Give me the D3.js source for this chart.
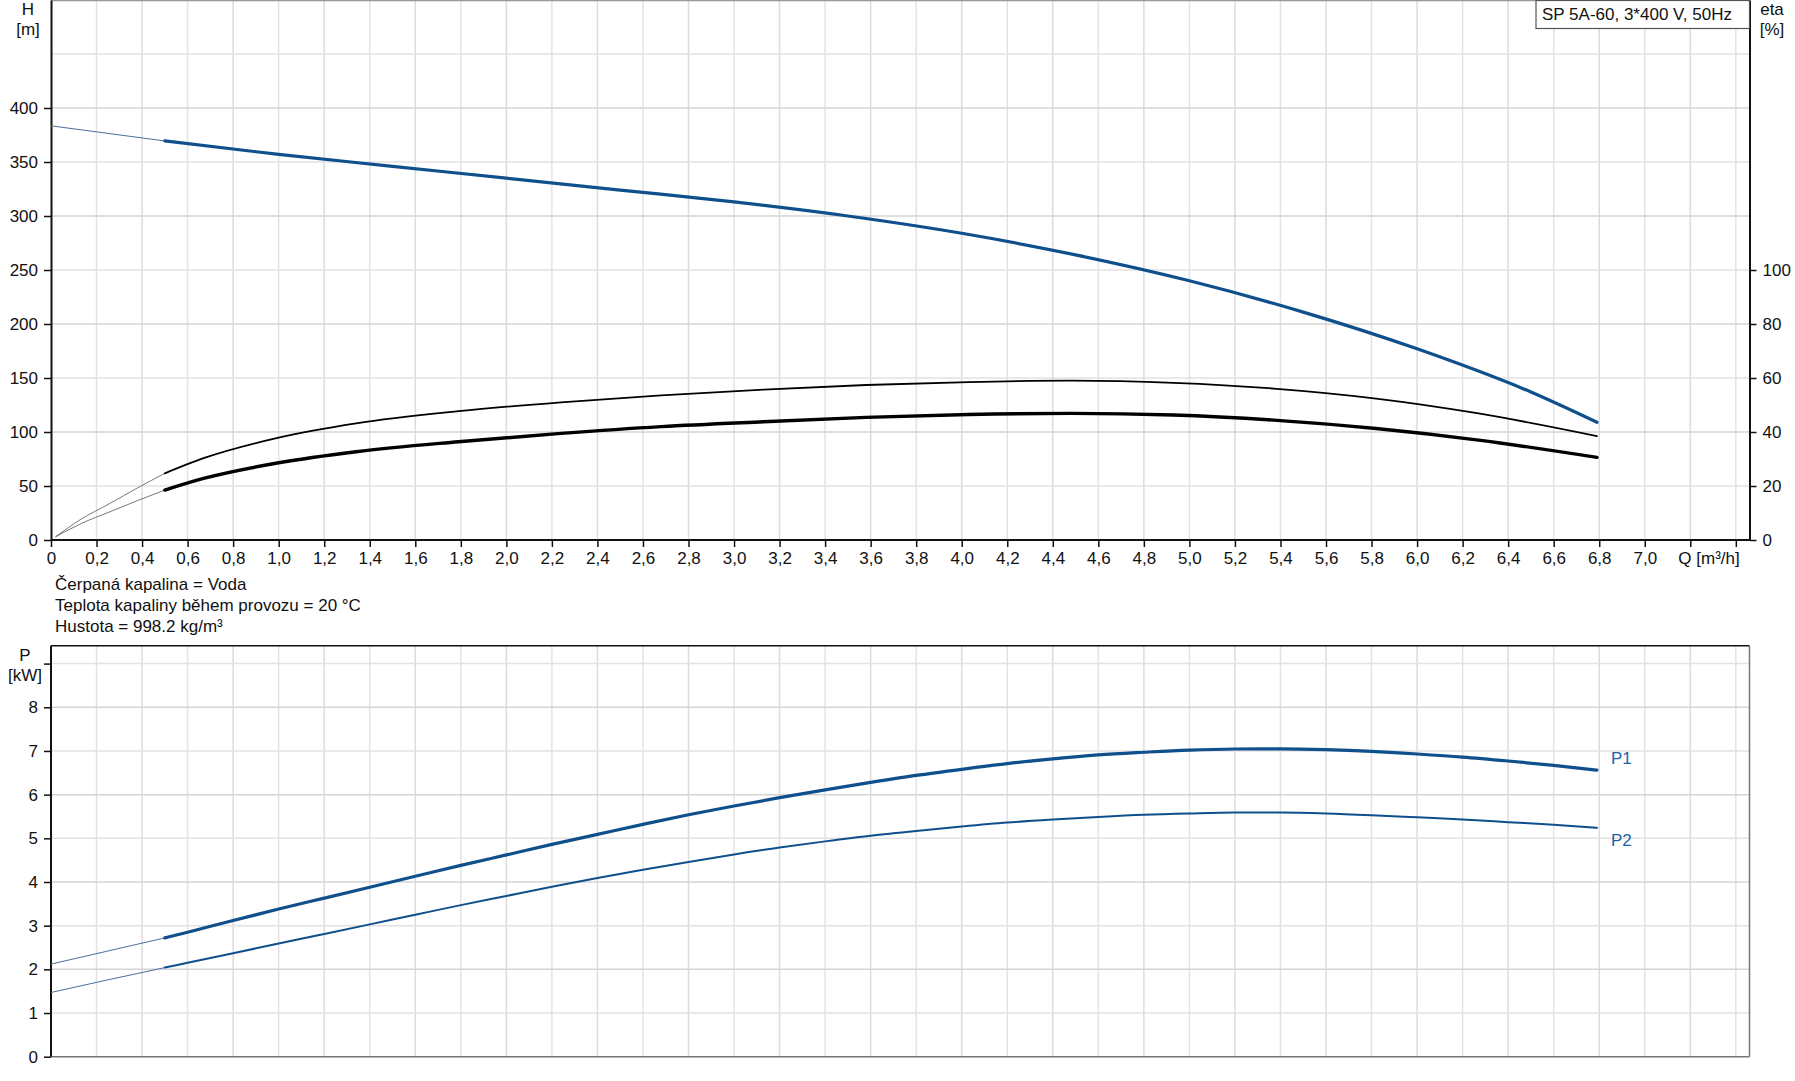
<!DOCTYPE html>
<html>
<head>
<meta charset="utf-8">
<script src="https://cdn.jsdelivr.net/npm/d3@7"></script>
<style>
  html, body { margin: 0; padding: 0; background: #fff; }
  svg { display: block; font-family: "Liberation Sans", Arial, sans-serif; }
</style>
</head>
<body>
<svg id="chart" width="1795" height="1081"></svg>
<script>
// ---------- DATA ----------
const xTicks = [0,0.2,0.4,0.6,0.8,1.0,1.2,1.4,1.6,1.8,2.0,2.2,2.4,2.6,2.8,3.0,3.2,3.4,3.6,3.8,4.0,4.2,4.4,4.6,4.8,5.0,5.2,5.4,5.6,5.8,6.0,6.2,6.4,6.6,6.8,7.0,7.2,7.4];
const hTicks = [0,50,100,150,200,250,300,350,400];
const etaTicks = [0,20,40,60,80,100];
const pTicks = [0,1,2,3,4,5,6,7,8,9];

const headQ = [0, 0.5, 1.0, 1.5, 2.0, 2.5, 3.0, 3.5, 4.0, 4.5, 5.0, 5.5, 6.0, 6.5, 6.79];
const headH = [383.5, 369.5, 357, 346, 335, 324, 313, 300, 284, 264, 240, 211, 177, 137, 109];

const etaQ      = [0.02, 0.13, 0.26, 0.38, 0.5, 0.67, 1.0, 1.34, 1.79, 2.24, 2.68, 3.13, 3.58, 4.03, 4.48, 4.93, 5.37, 5.82, 6.27, 6.79];
const etaPump   = [1.2, 7.6, 13.6, 19.3, 24.7, 30.3, 37.9, 43.2, 47.7, 51.0, 53.6, 55.7, 57.4, 58.5, 59.0, 58.2, 56.1, 52.4, 46.9, 38.5];
const etaTotal  = [1.2, 6.0, 10.5, 14.6, 18.5, 22.8, 28.6, 32.7, 36.4, 39.5, 42.0, 43.8, 45.4, 46.5, 46.9, 46.3, 44.4, 41.3, 37.0, 30.6];

const powerQ = [0, 0.25, 0.5, 0.6, 0.8, 1.0, 1.2, 1.4, 1.6, 1.8, 2.0, 2.2, 2.4, 2.6, 2.8, 3.0, 3.2, 3.4, 3.6, 3.8, 4.0, 4.2, 4.4, 4.6, 4.8, 5.0, 5.2, 5.4, 5.6, 5.8, 6.0, 6.2, 6.4, 6.6, 6.79];
const powerP1 = [2.12, 2.42, 2.72, 2.85, 3.12, 3.38, 3.63, 3.88, 4.13, 4.38, 4.62, 4.86, 5.09, 5.32, 5.54, 5.74, 5.93, 6.11, 6.28, 6.44, 6.58, 6.71, 6.82, 6.91, 6.97, 7.02, 7.045, 7.05, 7.03, 6.99, 6.93, 6.86, 6.77, 6.67, 6.56];
const powerP2 = [1.47, 1.76, 2.04, 2.15, 2.37, 2.59, 2.81, 3.03, 3.25, 3.47, 3.68, 3.89, 4.09, 4.28, 4.46, 4.63, 4.79, 4.93, 5.06, 5.17, 5.27, 5.36, 5.43, 5.49, 5.54, 5.57, 5.59, 5.59, 5.57, 5.53, 5.48, 5.43, 5.37, 5.31, 5.24];

const dutyStart = 0.5;
const titleText = "SP 5A-60, 3*400 V, 50Hz";
const infoLines = ["Čerpaná kapalina = Voda", "Teplota kapaliny během provozu = 20 °C", "Hustota = 998.2 kg/m³"];

// ---------- LAYOUT ----------
const svg = d3.select("#chart");
const X0 = 51, X1 = 1749.5;
const T_BOTTOM = 540, T_TOP = 0;
const B_BOTTOM = 1056.7, B_TOP = 645.7;
const FS = 17;
const BLUE = "#0f4f8c";

const x = d3.scaleLinear().domain([0, 7.46]).range([X0, X1]);
const yH = d3.scaleLinear().domain([0, 500]).range([T_BOTTOM, T_TOP]);
const yEta = d3.scaleLinear().domain([0, 200]).range([T_BOTTOM, T_TOP]);
const yP = d3.scaleLinear().domain([0, 9.41]).range([B_BOTTOM, B_TOP]);

const fmtQ = v => v === 0 ? "0" : d3.format(".1f")(v).replace(".", ",");

// ---------- GRID ----------
function grid(top, bottom, yScale, yVals) {
  const g = svg.append("g");
  g.selectAll(".v").data(xTicks.filter(d => d > 0)).join("line")
    .attr("x1", d => x(d)).attr("x2", d => x(d))
    .attr("y1", top).attr("y2", bottom)
    .attr("stroke", (d, i) => i % 2 ? "#dcdcdc" : "#e3e3e3").attr("stroke-width", 1.5);
  g.selectAll(".h").data(yVals).join("line")
    .attr("x1", X0).attr("x2", X1)
    .attr("y1", d => yScale(d)).attr("y2", d => yScale(d))
    .attr("stroke", (d, i) => i % 2 ? "#d4d4d4" : "#e2e2e2").attr("stroke-width", 1.5);
}
grid(T_TOP, T_BOTTOM, yH, [50,100,150,200,250,300,350,400,450]);
grid(B_TOP, B_BOTTOM, yP, [1,2,3,4,5,6,7,8,9]);

// ---------- BORDERS ----------
svg.append("line").attr("x1", X0).attr("x2", X1).attr("y1", 0.5).attr("y2", 0.5).attr("stroke", "#999").attr("stroke-width", 1.5);
svg.append("line").attr("x1", X0).attr("x2", X1).attr("y1", B_TOP).attr("y2", B_TOP).attr("stroke", "#111").attr("stroke-width", 1.5);
svg.append("line").attr("x1", X0).attr("x2", X1).attr("y1", B_BOTTOM).attr("y2", B_BOTTOM).attr("stroke", "#777").attr("stroke-width", 1.5);
svg.append("line").attr("x1", X1).attr("x2", X1).attr("y1", B_TOP).attr("y2", B_BOTTOM).attr("stroke", "#777").attr("stroke-width", 1.5);

// ---------- AXES ----------
function styleAxis(g) {
  g.selectAll("text").attr("font-size", FS).attr("fill", "#111").attr("font-family", "Liberation Sans, Arial, sans-serif");
  g.selectAll("line").attr("stroke", "#111").attr("stroke-width", 1.5);
  g.select(".domain").attr("stroke", "#111").attr("stroke-width", 2);
}

const xAxis = d3.axisBottom(x).tickValues(xTicks).tickSize(7).tickPadding(5).tickSizeOuter(0)
  .tickFormat(d => d <= 7.01 ? fmtQ(d) : "");
svg.append("g").attr("transform", `translate(0,${T_BOTTOM})`).call(xAxis).call(styleAxis)
  .select(".domain").attr("d", `M${X0},0H${X1}`);

svg.append("text").attr("x", x(7.2) - 12).attr("y", T_BOTTOM + 24).attr("font-size", FS).attr("fill", "#111")
  .text("Q [m³/h]");

svg.append("g").attr("transform", `translate(${X0},0)`)
  .call(d3.axisLeft(yH).tickValues(hTicks).tickSize(7).tickPadding(6).tickSizeOuter(0))
  .call(styleAxis);

svg.append("g").attr("transform", `translate(${X1},0)`)
  .call(d3.axisRight(yEta).tickValues(etaTicks).tickSize(7).tickPadding(6).tickSizeOuter(0))
  .call(styleAxis);

const pAxis = svg.append("g").attr("transform", `translate(${X0},0)`)
  .call(d3.axisLeft(yP).tickValues(pTicks).tickSize(7).tickPadding(6).tickSizeOuter(0).tickFormat(d => d === 9 ? "" : d))
  .call(styleAxis);
pAxis.select(".domain").attr("d", `M0,${B_TOP}V${B_BOTTOM}`);

// axis titles
function label(tx, ty, t, anchor) {
  svg.append("text").attr("x", tx).attr("y", ty).attr("font-size", FS).attr("fill", "#111")
    .attr("text-anchor", anchor || "middle").attr("dominant-baseline", "central").text(t);
}
label(28, 9, "H"); label(28, 29, "[m]");
label(1772, 9, "eta"); label(1772, 29, "[%]");
label(25, 655, "P"); label(25, 675, "[kW]");

// info lines
infoLines.forEach((t, i) => label(55, 584 + i * 21, t, "start"));

// title box
svg.append("rect").attr("x", 1536).attr("y", 0.5).attr("width", X1 - 1536).attr("height", 28)
  .attr("fill", "#fff").attr("stroke", "#555").attr("stroke-width", 1.2);
svg.append("text").attr("x", 1542).attr("y", 14).attr("font-size", FS).attr("fill", "#111")
  .attr("dominant-baseline", "central").text(titleText);

// ---------- CURVES ----------
function drawCurve(qs, vs, yScale, color, thinW, thickW, thinColor) {
  const pts = qs.map((q, i) => [q, vs[i]]);
  const line = d3.line().x(d => x(d[0])).y(d => yScale(d[1])).curve(d3.curveMonotoneX);
  svg.append("path").attr("d", line(pts.filter(d => d[0] <= dutyStart)))
    .attr("fill", "none").attr("stroke", thinColor || color).attr("stroke-width", thinW);
  svg.append("path").attr("d", line(pts.filter(d => d[0] >= dutyStart)))
    .attr("fill", "none").attr("stroke", color).attr("stroke-width", thickW).attr("stroke-linecap", "round");
}

drawCurve(headQ, headH, yH, BLUE, 1, 3.2, "#4a6f99");
drawCurve(etaQ, etaPump, yEta, "#000", 0.8, 1.8, "#555");
drawCurve(etaQ, etaTotal, yEta, "#000", 0.8, 3.4, "#555");
drawCurve(powerQ, powerP1, yP, BLUE, 1, 3.2, "#4a6f99");
drawCurve(powerQ, powerP2, yP, BLUE, 1, 2.0, "#4a6f99");

svg.append("text").attr("x", 1611).attr("y", 758).attr("font-size", FS).attr("fill", "#1d5fa5")
  .attr("dominant-baseline", "central").text("P1");
svg.append("text").attr("x", 1611).attr("y", 840).attr("font-size", FS).attr("fill", "#1d5fa5")
  .attr("dominant-baseline", "central").text("P2");
</script>
</body>
</html>
